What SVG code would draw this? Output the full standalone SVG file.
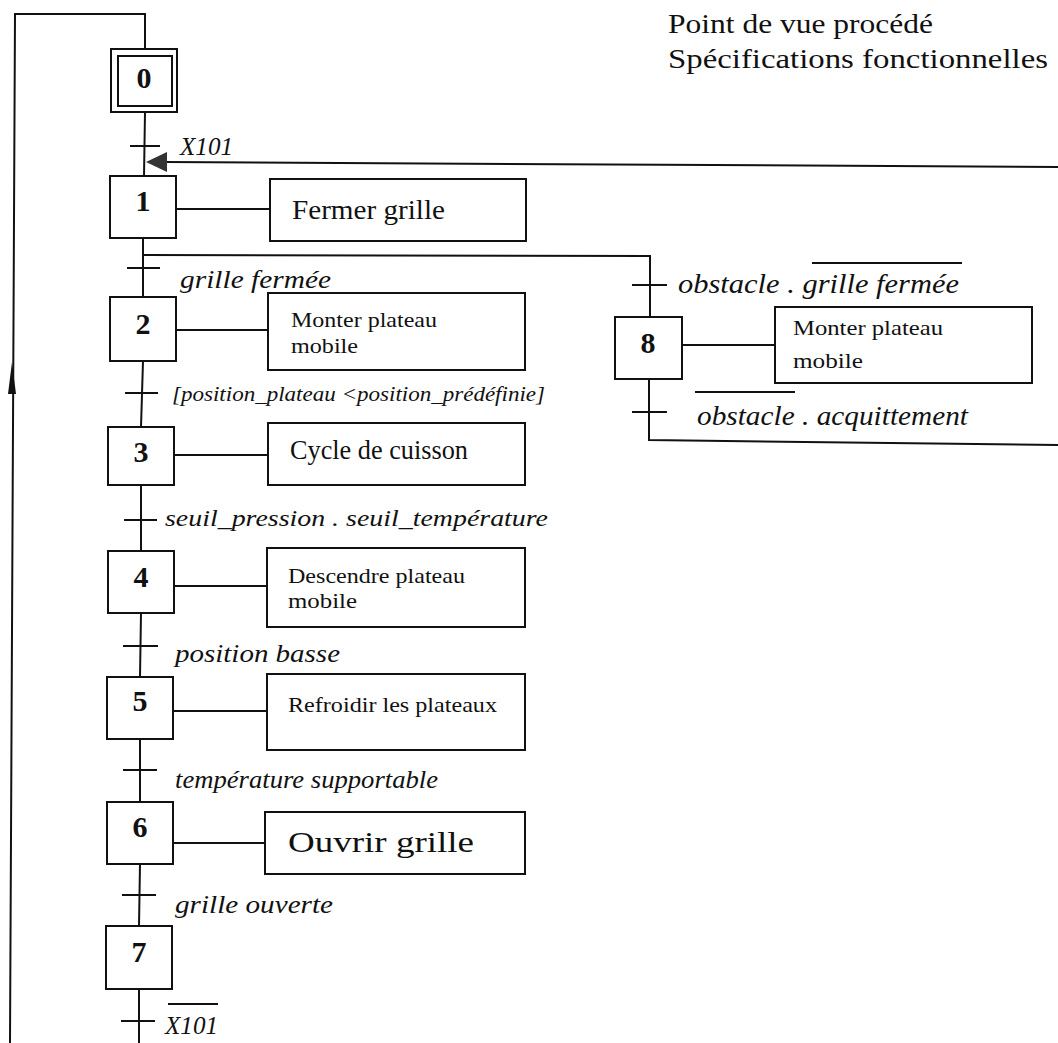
<svg xmlns="http://www.w3.org/2000/svg" width="1058" height="1043" viewBox="0 0 1058 1043">
<style>
.box{fill:#fff;stroke:#111;stroke-width:2}
.ln{fill:none;stroke:#111;stroke-width:2}
.num{font-family:"Liberation Serif",serif;font-weight:bold;font-size:30px;text-anchor:middle;fill:#111}
.act{font-family:"Liberation Serif",serif;font-size:27px;fill:#111}
.acts{font-family:"Liberation Serif",serif;font-size:22px;fill:#111}
.cond{font-family:"Liberation Serif",serif;font-style:italic;font-size:25px;fill:#111}
.title{font-family:"Liberation Serif",serif;font-size:28px;fill:#111}
</style>
<rect width="1058" height="1043" fill="#fff"/>
<g id="title">
<text class="title" x="668" y="33" textLength="265" lengthAdjust="spacingAndGlyphs">Point de vue procédé</text>
<text class="title" x="668" y="68" textLength="380" lengthAdjust="spacingAndGlyphs">Spécifications fonctionnelles</text>
</g>
<g id="connectors">
<polyline class="ln" points="10,1043 15,14 145,14 145,49"/>
<polygon points="12,362 8,394 16,394" fill="#111"/>
<line class="ln" x1="145" y1="112" x2="144" y2="176"/>
<line class="ln" x1="143" y1="238" x2="143" y2="297"/>
<line class="ln" x1="143" y1="361" x2="141" y2="427"/>
<line class="ln" x1="141" y1="485" x2="141" y2="551"/>
<line class="ln" x1="141" y1="613" x2="140" y2="677"/>
<line class="ln" x1="140" y1="739" x2="140" y2="802"/>
<line class="ln" x1="140" y1="864" x2="139" y2="926"/>
<line class="ln" x1="139" y1="989" x2="139" y2="1043"/>
<line class="ln" x1="130" y1="146" x2="160" y2="146"/>
<line class="ln" x1="127" y1="268" x2="160" y2="268"/>
<line class="ln" x1="125" y1="393" x2="158" y2="393"/>
<line class="ln" x1="124" y1="520" x2="157" y2="520"/>
<line class="ln" x1="123" y1="646" x2="158" y2="646"/>
<line class="ln" x1="123" y1="770" x2="157" y2="770"/>
<line class="ln" x1="122" y1="895" x2="156" y2="895"/>
<line class="ln" x1="121" y1="1021" x2="155" y2="1021"/>
<polyline class="ln" points="143,255 650,256 650,317"/>
<line class="ln" x1="632" y1="285" x2="667" y2="285"/>
<polyline class="ln" points="649,379 649,440 1058,445"/>
<line class="ln" x1="632" y1="412" x2="667" y2="412"/>
<line class="ln" x1="1058" y1="167" x2="165" y2="162"/>
<polygon points="146,162 167,152 167,172" fill="#333"/>
<line class="ln" x1="176" y1="209" x2="270" y2="209"/>
<line class="ln" x1="176" y1="330" x2="268" y2="330"/>
<line class="ln" x1="174" y1="455" x2="268" y2="455"/>
<line class="ln" x1="174" y1="586" x2="267" y2="586"/>
<line class="ln" x1="173" y1="711" x2="267" y2="711"/>
<line class="ln" x1="173" y1="843" x2="265" y2="843"/>
<line class="ln" x1="682" y1="345" x2="775" y2="345"/>
</g>
<g id="transitions">
<text class="cond" x="180" y="155" textLength="53" lengthAdjust="spacingAndGlyphs">X101</text>
<text class="cond" x="180" y="288" textLength="151" lengthAdjust="spacingAndGlyphs">grille fermée</text>
<text class="cond" x="172" y="401" style="font-size:22px" textLength="373" lengthAdjust="spacingAndGlyphs">[position_plateau &lt;position_prédéfinie]</text>
<text class="cond" x="165" y="526" style="font-size:23px" textLength="383" lengthAdjust="spacingAndGlyphs">seuil_pression . seuil_température</text>
<text class="cond" x="175" y="662" textLength="165" lengthAdjust="spacingAndGlyphs">position basse</text>
<text class="cond" x="175" y="788" textLength="263" lengthAdjust="spacingAndGlyphs">température supportable</text>
<text class="cond" x="175" y="913" textLength="158" lengthAdjust="spacingAndGlyphs">grille ouverte</text>
<text class="cond" x="165" y="1034" textLength="53" lengthAdjust="spacingAndGlyphs">X101</text>
<line class="ln" x1="168" y1="1004" x2="218" y2="1004"/>
<text class="cond" x="678" y="293" style="font-size:27px" textLength="281" lengthAdjust="spacingAndGlyphs">obstacle . grille fermée</text>
<line class="ln" x1="812" y1="263" x2="962" y2="263"/>
<text class="cond" x="697" y="425" style="font-size:27px" textLength="271" lengthAdjust="spacingAndGlyphs">obstacle . acquittement</text>
<line class="ln" x1="695" y1="392" x2="795" y2="392"/>
</g>
<g id="step0">
<rect class="box" x="111" y="49" width="66" height="63"/>
<rect class="box" x="118" y="56" width="54" height="50"/>
<text class="num" x="144" y="88">0</text>
</g>
<g id="step1"><rect class="box" x="110" y="176" width="66" height="62"/><text class="num" x="143" y="211">1</text></g>
<g id="action1"><rect class="box" x="270" y="179" width="256" height="62"/><text class="act" x="292" y="219" textLength="153" lengthAdjust="spacingAndGlyphs">Fermer grille</text></g>
<g id="step2"><rect class="box" x="110" y="297" width="66" height="64"/><text class="num" x="143" y="334">2</text></g>
<g id="action2"><rect class="box" x="268" y="293" width="257" height="77"/><text class="acts" x="291" y="327" textLength="146" lengthAdjust="spacingAndGlyphs">Monter plateau</text><text class="acts" x="291" y="353" textLength="67" lengthAdjust="spacingAndGlyphs">mobile</text></g>
<g id="step3"><rect class="box" x="108" y="427" width="66" height="58"/><text class="num" x="141" y="462">3</text></g>
<g id="action3"><rect class="box" x="268" y="423" width="257" height="62"/><text class="act" x="290" y="459" textLength="178" lengthAdjust="spacingAndGlyphs">Cycle de cuisson</text></g>
<g id="step4"><rect class="box" x="108" y="551" width="66" height="62"/><text class="num" x="141" y="587">4</text></g>
<g id="action4"><rect class="box" x="267" y="548" width="258" height="79"/><text class="acts" x="288" y="583" textLength="177" lengthAdjust="spacingAndGlyphs">Descendre plateau</text><text class="acts" x="288" y="608" textLength="69" lengthAdjust="spacingAndGlyphs">mobile</text></g>
<g id="step5"><rect class="box" x="107" y="677" width="66" height="62"/><text class="num" x="140" y="711">5</text></g>
<g id="action5"><rect class="box" x="267" y="674" width="258" height="76"/><text class="acts" x="288" y="712" textLength="209" lengthAdjust="spacingAndGlyphs">Refroidir les plateaux</text></g>
<g id="step6"><rect class="box" x="107" y="802" width="66" height="62"/><text class="num" x="140" y="837">6</text></g>
<g id="action6"><rect class="box" x="265" y="812" width="260" height="62"/><text class="act" x="288" y="852" style="font-size:29px" textLength="186" lengthAdjust="spacingAndGlyphs">Ouvrir grille</text></g>
<g id="step7"><rect class="box" x="106" y="926" width="66" height="63"/><text class="num" x="139" y="962">7</text></g>
<g id="step8"><rect class="box" x="615" y="317" width="67" height="62"/><text class="num" x="648" y="353">8</text></g>
<g id="action8"><rect class="box" x="775" y="307" width="257" height="76"/><text class="acts" x="793" y="335" textLength="150" lengthAdjust="spacingAndGlyphs">Monter plateau</text><text class="acts" x="793" y="368" textLength="70" lengthAdjust="spacingAndGlyphs">mobile</text></g>
</svg>
